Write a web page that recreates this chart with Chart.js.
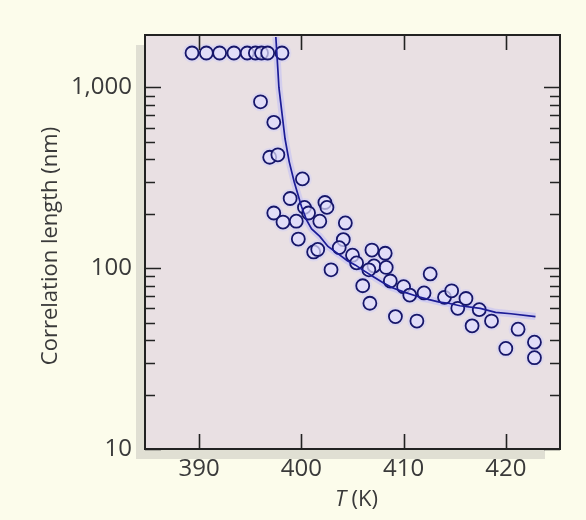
<!DOCTYPE html>
<html>
<head>
<meta charset="utf-8">
<script src="https://cdn.jsdelivr.net/npm/chart.js@4/dist/chart.umd.min.js"></script>
<style>
  html, body { margin: 0; padding: 0; background: #fcfceb; }
  #wrap { width: 586px; height: 520px; }
</style>
</head>
<body>
<div id="wrap"><canvas id="corrChart" width="586" height="520"></canvas></div>
<script>
// measured points: temperature (K) and correlation length (nm)
const tempK = [
  389.3, 390.7, 392.0, 393.4, 394.7, 395.5, 396.1, 396.7, 398.1,
  396.0, 397.3, 396.9, 397.7, 400.1, 398.9, 397.3, 398.2, 399.5, 399.7,
  400.3, 400.7, 402.3, 402.5, 401.8, 401.2, 401.6, 404.3, 404.1, 403.7,
  402.9, 405.0, 405.4, 406.0, 406.7, 406.9, 408.2, 407.1, 406.6, 408.3,
  408.7, 409.2, 410.0, 410.6, 411.3, 412.6, 412.0, 414.0, 414.7, 415.3,
  416.1, 416.7, 417.4, 418.6, 420.0, 421.2, 422.8, 422.8
];
const corrNm = [
  1550, 1550, 1550, 1550, 1550, 1550, 1550, 1550, 1550,
  833, 641, 411, 424, 312, 243, 202, 180, 182, 145,
  217, 202, 231, 217, 182, 123, 127, 178, 144, 130,
  98, 118, 107, 80, 64, 126, 121, 103, 98, 101,
  85, 54, 79, 71, 51, 93, 73, 69, 75, 60,
  68, 48, 59, 51, 36, 46, 39, 32
];

// fitted curve
const fitT = [
  397.5, 397.7, 397.8, 398.1, 398.4, 398.8, 399.3, 400.0, 400.5, 401.0,
  401.8, 402.6, 403.6, 404.5, 405.3, 406.1, 407.0, 408.0, 408.9, 410.0,
  411.3, 412.5, 413.5, 414.4, 415.5, 417.5, 419.0, 420.5, 422.9
];
const fitNm = [
  1900, 1250, 1000, 720, 520, 390, 300, 220, 185, 165,
  150, 132, 120, 110, 104, 97, 90, 83, 78, 74,
  70, 67, 65, 64, 62, 60, 57, 56, 54
];

// axis ticks
const xTicks = [390, 400, 410, 420];
const yTicks = [10, 100, 1000];
const yMinorTicks = [20, 30, 40, 50, 60, 70, 80, 90, 200, 300, 400, 500, 600, 700, 800, 900];

const FONT = "'Open Sans', 'Noto Sans', sans-serif";
const TEXT_COLOR = '#3a3a3a';

function toPoints(xs, ys) {
  return xs.map((x, i) => ({ x: x, y: ys[i] }));
}

// fond, ombre, cadre, graduations vers l'interieur, titres
const framePlugin = {
  id: 'framePlugin',
  beforeDraw(chart) {
    const { ctx, chartArea: a } = chart;
    ctx.save();
    ctx.fillStyle = '#fcfceb';
    ctx.fillRect(0, 0, chart.width, chart.height);
    // drop shadow on the left / bottom
    ctx.fillStyle = '#e0dfd3';
    ctx.fillRect(a.left - 9, a.top + 10, a.right - a.left - 6, a.bottom - a.top);
    ctx.fillStyle = '#e9e0e3';
    ctx.fillRect(a.left, a.top, a.right - a.left, a.bottom - a.top);
    ctx.restore();
  },
  afterDatasetsDraw(chart) {
    const { ctx, chartArea: a, scales } = chart;
    const x = scales.x, y = scales.y;
    ctx.save();
    ctx.strokeStyle = '#222';
    ctx.lineWidth = 1.6;
    ctx.beginPath();
    xTicks.forEach(v => {
      const px = Math.round(x.getPixelForValue(v)) + 0.5;
      ctx.moveTo(px, a.bottom); ctx.lineTo(px, a.bottom - 15);
      ctx.moveTo(px, a.top); ctx.lineTo(px, a.top + 15);
    });
    yTicks.forEach(v => {
      const py = Math.round(y.getPixelForValue(v)) + 0.5;
      ctx.moveTo(a.left, py); ctx.lineTo(a.left + 16, py);
      ctx.moveTo(a.right, py); ctx.lineTo(a.right - 16, py);
    });
    yMinorTicks.forEach(v => {
      const py = Math.round(y.getPixelForValue(v)) + 0.5;
      ctx.moveTo(a.left, py); ctx.lineTo(a.left + 10, py);
      ctx.moveTo(a.right, py); ctx.lineTo(a.right - 10, py);
    });
    ctx.stroke();
    ctx.lineWidth = 2;
    ctx.strokeRect(a.left, a.top, a.right - a.left, a.bottom - a.top);
    ctx.restore();
  },
  afterDraw(chart) {
    const { ctx, chartArea: a } = chart;
    ctx.save();
    ctx.fillStyle = TEXT_COLOR;
    // y title
    ctx.translate(51, 246);
    ctx.rotate(-Math.PI / 2);
    ctx.font = '22px ' + FONT;
    ctx.textAlign = 'center';
    ctx.textBaseline = 'middle';
    ctx.fillText('Correlation length (nm)', 0, 0);
    ctx.restore();

    // x title with italic T
    ctx.save();
    ctx.fillStyle = TEXT_COLOR;
    ctx.textBaseline = 'middle';
    const italic = 'italic 22px ' + FONT;
    const normal = '22px ' + FONT;
    ctx.font = italic;
    const wT = ctx.measureText('T').width;
    ctx.font = normal;
    const wK = ctx.measureText(' (K)').width;
    const cx = (a.left + a.right) / 2 + 4;
    const start = cx - (wT + wK) / 2;
    ctx.font = italic;
    ctx.fillText('T', start, 500);
    ctx.font = normal;
    ctx.fillText(' (K)', start + wT, 500);
    ctx.restore();
  }
};

const ctx = document.getElementById('corrChart');

new Chart(ctx.getContext('2d'), {
  type: 'scatter',
  data: {
    datasets: [
      {
        label: 'fit',
        data: toPoints(fitT, fitNm),
        showLine: true,
        borderColor: '#1c1c96',
        borderWidth: 1.7,
        pointRadius: 0,
        tension: 0,
        order: 0
      },
      {
        label: 'fit glow',
        data: toPoints(fitT, fitNm),
        showLine: true,
        borderColor: 'rgba(170, 170, 255, 0.35)',
        borderWidth: 7,
        pointRadius: 0,
        tension: 0,
        order: 3
      },
      {
        label: 'data',
        data: toPoints(tempK, corrNm),
        pointStyle: 'circle',
        pointRadius: 6.5,
        pointBorderWidth: 1.8,
        pointBorderColor: '#16166a',
        pointBackgroundColor: 'rgba(226, 224, 252, 0.7)',
        order: 1
      },
      {
        label: 'data glow',
        data: toPoints(tempK, corrNm),
        pointStyle: 'circle',
        pointRadius: 9.5,
        pointBorderWidth: 0,
        pointBackgroundColor: 'rgba(200, 200, 255, 0.35)',
        order: 2
      }
    ]
  },
  options: {
    responsive: false,
    animation: false,
    events: [],
    layout: { padding: { top: 35, right: 26, left: 0, bottom: 0 } },
    plugins: {
      legend: { display: false },
      tooltip: { enabled: false }
    },
    scales: {
      x: {
        type: 'linear',
        min: 384.7,
        max: 425.3,
        afterBuildTicks: scale => { scale.ticks = xTicks.map(v => ({ value: v })); },
        afterFit: scale => { scale.height = 71; },
        grid: { display: false, drawTicks: false },
        border: { display: false },
        ticks: {
          color: TEXT_COLOR,
          font: { family: FONT, size: 24 },
          padding: 6,
          maxRotation: 0
        }
      },
      y: {
        type: 'logarithmic',
        min: 10,
        max: 1950,
        afterBuildTicks: scale => { scale.ticks = yTicks.map(v => ({ value: v })); },
        afterFit: scale => { scale.width = 145; },
        grid: { display: false, drawTicks: false },
        border: { display: false },
        ticks: {
          color: TEXT_COLOR,
          font: { family: FONT, size: 24 },
          padding: 13,
          callback: v => new Intl.NumberFormat('en-US').format(v)
        }
      }
    }
  },
  plugins: [framePlugin]
});
</script>
</body>
</html>
